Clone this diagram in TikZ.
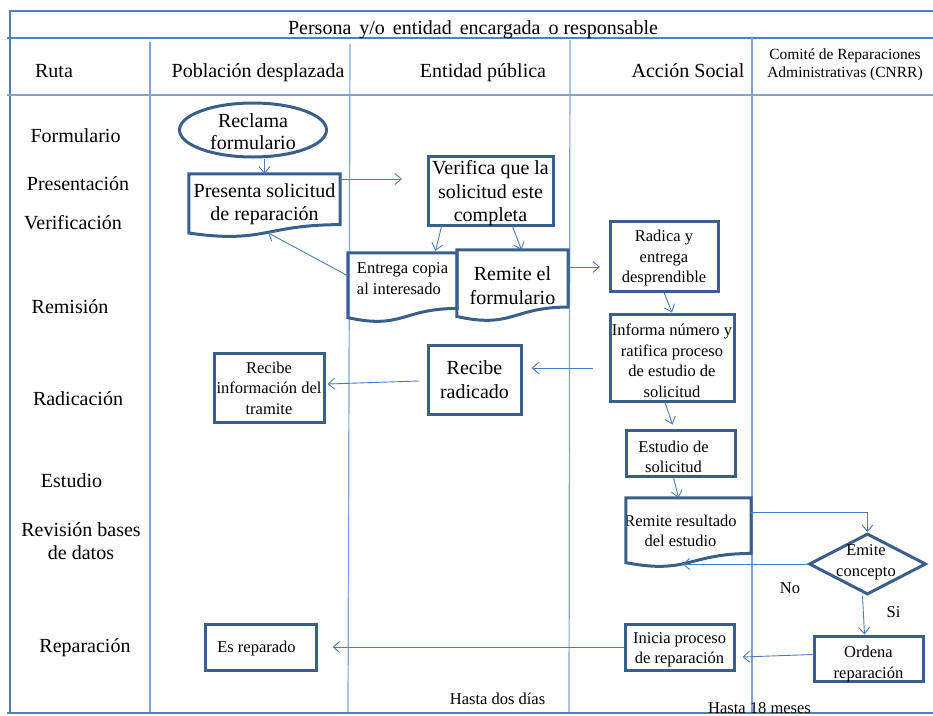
\documentclass[tikz,border=0pt]{standalone}
\usepackage{fontspec}
\setmainfont{Liberation Serif}
\usetikzlibrary{shapes.geometric,arrows.meta,calc}
\definecolor{boxc}{RGB}{58,95,140}
\definecolor{arrc}{RGB}{74,126,187}
\definecolor{tblc}{RGB}{79,129,189}
\definecolor{tbll}{RGB}{128,163,208}
\newcommand{\docoutline}[1]{%
  \draw[boxline] (#1.north west) -- (#1.north east)
    -- ($(#1.north east)!0.802!(#1.south east)$)
    .. controls ($(#1.north)!0.802!(#1.south)$) and ($(#1.north)!1.1075!(#1.south)$)
    .. ($(#1.north west)!0.934!(#1.south west)$) -- cycle;}
\begin{document}
\begin{tikzpicture}[x=1pt,y=-1pt,
  big/.style={font=\fontsize{20}{23.5}\selectfont},
  small/.style={font=\fontsize{16.5}{20.5}\selectfont},
  cnrr/.style={font=\fontsize{15.5}{18}\selectfont},
  boxline/.style={draw=boxc, line width=3pt},
  box/.style={rectangle, draw=boxc, line width=3pt, inner sep=0pt},
  docframe/.style={rectangle, inner sep=0pt},
  conn/.style={draw=arrc, line width=0.9pt, -{Straight Barb[length=6.5pt,width=11pt]}},
  tblthick/.style={draw=tblc, line width=2.5pt},
  tblmid/.style={draw=tblc, line width=1.2pt},
  tbllight/.style={draw=tbll, line width=1.2pt}]
\useasboundingbox (0,0) rectangle (933,715);

% table
\draw[tblthick] (10,713) -- (10,11) -- (933,11);
\draw[tblmid] (7,38) -- (933,38);
\draw[tbllight] (7,95) -- (933,95);
\draw[tbllight] (150,42) -- (150,713);
\draw[tbllight] (350,44) -- (348,713);
\draw[tbllight] (570,40) -- (569,713);
\draw[tbllight] (752,38) -- (752,713);
\draw[tblmid] (7,713) -- (933,713);

% headers
\node[big, anchor=base] (title) at (473,34) {Persona\hspace{8pt}y/o\hspace{8pt}entidad\hspace{8pt}encargada\hspace{8pt}o responsable};
\node[big, anchor=base] (hRuta) at (54,77) {Ruta};
\node[big, anchor=base] (hPob) at (258,77) {Población desplazada};
\node[big, anchor=base] (hEnt) at (483,77) {Entidad pública};
\node[big, anchor=base] (hAcc) at (688,77) {Acción Social};
\node[cnrr, align=center] (hCom) at (845,65) {Comité de Reparaciones\\Administrativas (CNRR)};

% row labels
\node[big, anchor=base] (rForm) at (75.5,142) {Formulario};
\node[big, anchor=base] (rPres) at (78,190) {Presentación};
\node[big, anchor=base] (rVer) at (73,229) {Verificación};
\node[big, anchor=base] (rRem) at (70,313) {Remisión};
\node[big, anchor=base] (rRad) at (78,405) {Radicación};
\node[big, anchor=base] (rEst) at (71.5,487) {Estudio};
\node[big, align=center] (rRev) at (81,541) {Revisión bases\\de datos};
\node[big, anchor=base] (rRep) at (85,652) {Reparación};

% shapes
\node[ellipse, draw=boxc, line width=3pt, minimum width=147, minimum height=54, inner sep=0pt,
  label={[font=\fontsize{20}{22}\selectfont, align=center, yshift=-1.5pt]center:Reclama\\formulario}] (rec) at (253,130) {};

\node[docframe, minimum width=151, minimum height=63,
  label={[big, align=center, yshift=1.5pt]center:Presenta solicitud\\de reparación}] (pres) at (264.5,205.5) {};
\docoutline{pres}

\node[box, minimum width=125, minimum height=69,
  label={[big, align=center, yshift=-3pt]center:Verifica que la\\solicitud este\\completa}] (verif) at (490.5,190.5) {};

\node[docframe, minimum width=109, minimum height=69,
  label={[small, align=left, yshift=9pt]center:Entrega copia\\al interesado}] (ent) at (402.5,287.5) {};
\docoutline{ent}

\node[docframe, minimum width=111, minimum height=71,
  label={[big, align=center, yshift=0pt]center:Remite el\\formulario}] (rem) at (512.5,285.5) {};
\docoutline{rem}

\node[box, minimum width=108, minimum height=70,
  label={[small, align=center, yshift=-2.5pt]center:Radica y\\entrega\\desprendible}] (rad) at (664,256) {};
\node[box, minimum width=124, minimum height=87,
  label={[small, align=center, yshift=-3.5pt]center:Informa número y\\ratifica proceso\\de estudio de\\solicitud}] (inf) at (672,357.5) {};
\node[box, minimum width=93, minimum height=69,
  label={[big, align=center]center:Recibe\\radicado}] (recrad) at (474.5,379.5) {};
\node[box, minimum width=110, minimum height=69,
  label={[small, align=center, yshift=-0.5pt]center:Recibe\\información del\\tramite}] (recinf) at (269,387.5) {};
\node[box, minimum width=109, minimum height=46,
  label={[small, align=center, xshift=-7pt, yshift=-4pt]center:Estudio de\\solicitud}] (est) at (680.5,453) {};

\node[docframe, minimum width=125, minimum height=69,
  label={[small, align=center, xshift=-8pt, yshift=1.5pt]center:Remite resultado\\del estudio}] (res) at (688.5,532.5) {};
\docoutline{res}

\node[diamond, draw=boxc, line width=3pt, minimum width=117, minimum height=61, inner sep=0pt,
  label={[small, align=center, xshift=-1.5pt, yshift=1.5pt]center:Emite\\concepto}] (dia) at (867.5,564) {};

\node[box, minimum width=109, minimum height=45,
  label={[small, align=center, yshift=-5.5pt]center:Ordena\\reparación}] (ord) at (868.5,658.5) {};
\node[box, minimum width=109, minimum height=46,
  label={[small, align=center, yshift=-3pt]center:Inicia proceso\\de reparación}] (ini) at (679.5,647) {};
\node[box, minimum width=111, minimum height=46,
  label={[small, xshift=-4pt, yshift=-2pt]center:Es reparado}] (esrep) at (260.5,647) {};

% free labels
\node[small, anchor=base] (lNo) at (790,593) {No};
\node[small, anchor=base] (lSi) at (893.5,617) {Si};
\node[small, anchor=base] (lDias) at (497.5,704) {Hasta dos días};
\node[small, anchor=base] (lMeses) at (759.5,713) {Hasta 18 meses};

% connectors
\coordinate (pv) at (402,179);
\coordinate (rr) at (600,267);
\coordinate (ia) at (593,368);
\coordinate (rb) at (419,381);
\draw[conn] (rec.south -| pres.north) -- (pres.north);
\draw[conn] (pres.north east |- pv) -- (pv);
\draw[conn] ($(verif.south west)+(15,0)$) -- ($(ent.north)+(33,-2)$);
\draw[conn] ($(verif.south west)+(86,0)$) -- ($(rem.north)+(9,0)$);
\draw[conn] ($(ent.north west)+(0,23)$) -- ($(pres.north)!0.93!(pres.south)+(3.5,0)$);
\draw[conn] (rem.north east |- rr) -- (rr);
\draw[conn] (rad.south) -- (inf.north);
\draw[conn] (ia) -- ($(ia -| recrad.east)+(9,0)$);
\draw[conn] (rb) -- ($(recinf.east)+(2,-3.5)$);
\draw[conn] ($(inf.south)+(-7,0)$) -- ($(est.north)+(-8,-4)$);
\draw[conn] ($(est.south)+(-7,0)$) -- ($(res.north)+(-10,0)$);
\draw[conn] ($(res.north east)+(0,15)$) -| (dia.north);
\draw[conn] (dia.west) -- ($(dia.west -| res.south)+(-6,0)$);
\draw[conn] ($(dia.south)+(-5,0)$) -- ($(ord.north)+(-4,0)$);
\draw[conn] ($(ord.west)+(0,-4)$) -- ($(ini.east)+(7,10)$);
\draw[conn] (ini.west) -- ($(esrep.east)+(15,0)$);
\end{tikzpicture}
\end{document}
